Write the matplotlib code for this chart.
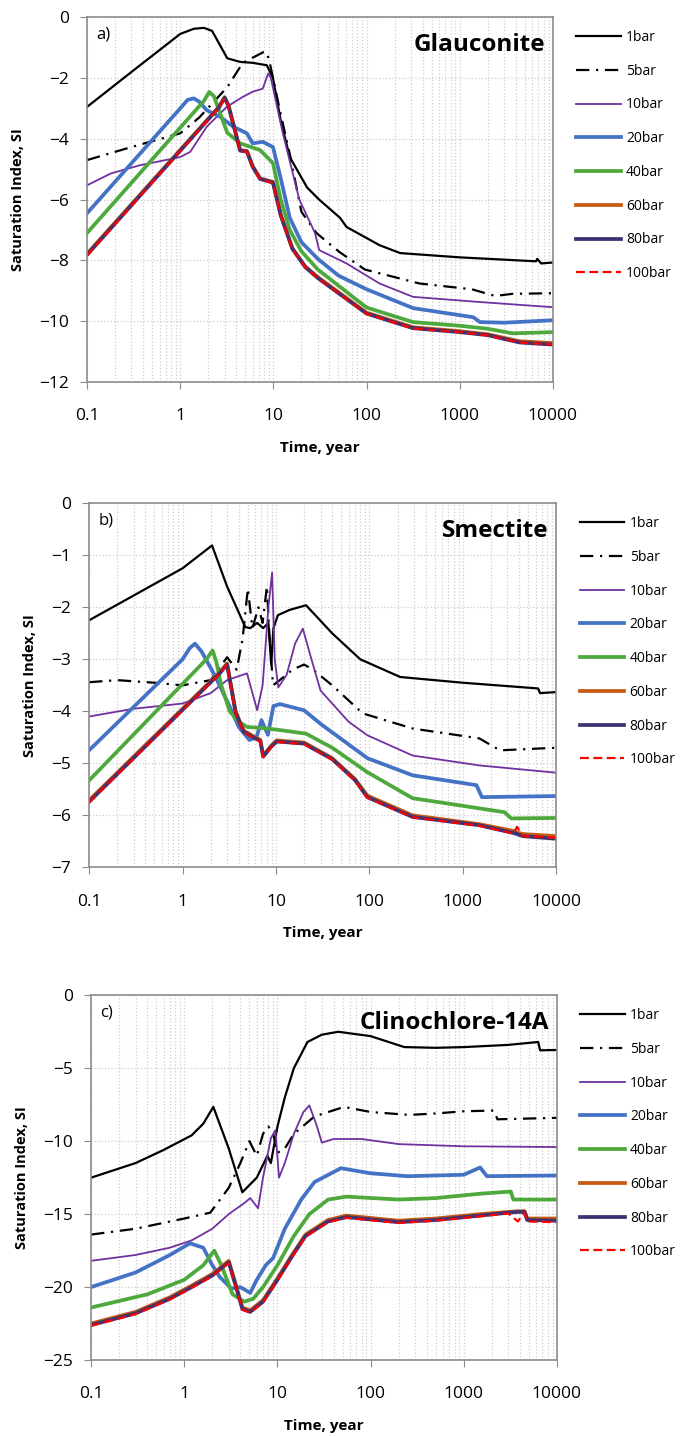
import matplotlib
matplotlib.use("Agg")
import matplotlib.pyplot as plt
from matplotlib.ticker import FixedLocator, NullFormatter, LogLocator

plt.rcParams['font.family'] = ['Open Sans', 'DejaVu Sans']

labels = ['1bar', '5bar', '10bar', '20bar', '40bar', '60bar', '80bar', '100bar']
colors = ['#000000', '#000000', '#7030A0', '#4472C4', '#4EA93C', '#C55A11', '#3F3172', '#FF0000']
styles = ['-', (0, (6, 3, 1, 3)), '-', '-', '-', '-', '-', (0, (4, 2))]
widths = [1.6, 1.6, 1.3, 2.7, 2.7, 2.7, 2.7, 1.6]

xticks = [0.1, 1, 10, 100, 1000, 10000]
xticklabels = ['0.1', '1', '10', '100', '1000', '10000']

# ---- a) Glauconite ----
a_t1 = [0.1, 0.3, 1, 1.4, 1.8, 2.2, 3.2, 4.4, 6, 8.5, 9.9, 12, 15, 23, 31, 52, 61, 138, 230, 1000, 6600, 6800, 7500, 10000]
a_si1 = [-2.95, -1.8, -0.55, -0.38, -0.35, -0.45, -1.35, -1.47, -1.5, -1.58, -2.0, -3.4, -4.6, -5.6, -6.0, -6.6, -6.9, -7.5, -7.76, -7.9, -8.03, -7.95, -8.1, -8.07]
a_t5 = [0.1, 0.3, 1, 1.6, 3.2, 4.7, 7.8, 8.5, 9.3, 12, 15, 20, 29, 51, 96, 370, 1350, 2400, 3700, 10000]
a_si5 = [-4.7, -4.27, -3.82, -3.3, -2.3, -1.5, -1.15, -1.15, -1.6, -3.2, -4.5, -6.4, -7.1, -7.72, -8.3, -8.76, -8.95, -9.17, -9.1, -9.08]
a_t10 = [0.1, 0.18, 0.37, 1.0, 1.28, 1.93, 3.16, 4.7, 6.0, 7.7, 8.8, 9.4, 12.6, 19, 28, 31, 61, 138, 316, 1650, 10000]
a_si10 = [-5.53, -5.14, -4.87, -4.6, -4.43, -3.6, -2.95, -2.62, -2.45, -2.35, -1.85, -2.0, -3.8, -6.0, -7.1, -7.66, -8.1, -8.76, -9.2, -9.37, -9.54]
a_t20 = [0.1, 1.0, 1.2, 1.4, 1.6, 1.93, 2.7, 3.7, 5.2, 6, 7.7, 9.9, 12, 15, 20, 30, 50, 100, 316, 1400, 1650, 3000, 10000]
a_si20 = [-6.45, -3.0, -2.72, -2.67, -2.78, -3.06, -3.28, -3.6, -3.82, -4.15, -4.1, -4.27, -5.3, -6.6, -7.4, -7.95, -8.5, -8.95, -9.57, -9.87, -10.03, -10.05, -9.97]
a_t40 = [0.1, 1.8, 2.05, 2.3, 3.2, 4.4, 7.2, 9.9, 12, 15, 20, 30, 100, 316, 1000, 2000, 3700, 10000]
a_si40 = [-7.1, -2.75, -2.46, -2.6, -3.8, -4.15, -4.37, -4.8, -6.0, -7.0, -7.7, -8.3, -9.55, -10.03, -10.15, -10.25, -10.4, -10.36]
a_t60 = [0.1, 2.6, 3.0, 3.3, 4.4, 5.2, 6, 7.2, 9.9, 12, 16, 22, 30, 100, 316, 1000, 2000, 4400, 10000]
a_si60 = [-7.78, -2.95, -2.63, -2.9, -4.37, -4.4, -4.9, -5.3, -5.42, -6.5, -7.6, -8.2, -8.55, -9.72, -10.2, -10.33, -10.43, -10.66, -10.72]
a_si80 = [-7.82, -2.97, -2.65, -2.92, -4.39, -4.42, -4.92, -5.32, -5.44, -6.52, -7.62, -8.22, -8.58, -9.75, -10.23, -10.36, -10.46, -10.7, -10.77]
a_si100 = [-7.84, -2.98, -2.66, -2.93, -4.4, -4.43, -4.93, -5.33, -5.45, -6.53, -7.63, -8.23, -8.58, -9.76, -10.24, -10.36, -10.47, -10.7, -10.77]

# ---- b) Smectite ----
b_t1 = [0.1, 1.0, 2.07, 3.0, 4.7, 5.3, 6.3, 7.3, 8.3, 8.9, 9.4, 10.5, 14, 21, 40, 80, 214, 1000, 6400, 6700, 10000]
b_si1 = [-2.25, -1.25, -0.81, -1.6, -2.38, -2.4, -2.3, -2.4, -2.3, -3.1, -2.4, -2.15, -2.05, -1.96, -2.5, -3.0, -3.34, -3.45, -3.56, -3.65, -3.63]
b_t5 = [0.1, 0.2, 0.5, 1.0, 2.0, 3.0, 3.8, 4.4, 5.0, 5.6, 6.5, 7.2, 8.0, 8.5, 9.3, 11, 15, 20, 25, 40, 85, 290, 1500, 2500, 10000]
b_si5 = [-3.44, -3.4, -3.45, -3.5, -3.4, -2.96, -3.2, -2.6, -1.64, -2.4, -2.0, -2.3, -1.6, -2.5, -3.5, -3.4, -3.2, -3.1, -3.2, -3.5, -4.04, -4.33, -4.52, -4.75, -4.7]
b_t10 = [0.1, 0.3, 1.0, 2.0, 3.0, 4.9, 6.3, 7.2, 8.3, 9.1, 9.7, 10.6, 13, 16, 19.4, 24, 30, 40, 60, 95, 290, 1500, 10000]
b_si10 = [-4.1, -3.95, -3.85, -3.65, -3.4, -3.27, -3.98, -3.5, -2.0, -1.33, -3.0, -3.54, -3.3, -2.7, -2.41, -3.0, -3.6, -3.85, -4.2, -4.46, -4.85, -5.04, -5.18]
b_t20 = [0.1, 1.0, 1.2, 1.36, 1.6, 2.2, 3.0, 4.0, 5.2, 6.2, 7.0, 8.2, 9.4, 11, 20, 30, 95, 290, 1400, 1600, 10000]
b_si20 = [-4.75, -3.0, -2.78, -2.7, -2.85, -3.3, -3.8, -4.3, -4.55, -4.5, -4.17, -4.45, -3.9, -3.86, -3.98, -4.24, -4.9, -5.23, -5.42, -5.65, -5.63]
b_t40 = [0.1, 1.8, 2.1, 2.3, 2.6, 3.2, 4.0, 4.9, 7.0, 10, 21, 40, 95, 290, 2800, 3300, 10000]
b_si40 = [-5.33, -3.0, -2.83, -3.05, -3.5, -4.0, -4.2, -4.3, -4.32, -4.35, -4.43, -4.7, -5.17, -5.67, -5.94, -6.06, -6.05]
b_t60 = [0.1, 2.5, 3.0, 3.7, 4.5, 6.0, 6.8, 7.3, 9.0, 10.2, 20, 40, 70, 95, 290, 1500, 3500, 3800, 4400, 10000]
b_si60 = [-5.71, -3.25, -3.08, -4.0, -4.37, -4.5, -4.55, -4.85, -4.65, -4.56, -4.6, -4.9, -5.3, -5.62, -6.0, -6.17, -6.3, -6.33, -6.36, -6.4]
b_si80 = [-5.74, -3.27, -3.1, -4.02, -4.39, -4.52, -4.57, -4.87, -4.67, -4.58, -4.62, -4.92, -5.32, -5.65, -6.03, -6.19, -6.34, -6.36, -6.4, -6.45]
b_si100 = [-5.75, -3.28, -3.1, -4.03, -4.4, -4.53, -4.58, -4.88, -4.68, -4.59, -4.63, -4.93, -5.33, -5.66, -6.04, -6.2, -6.35, -6.22, -6.4, -6.43]

# ---- c) Clinochlore-14A ----
c_t1 = [0.1, 0.3, 0.6, 1.2, 1.6, 2.05, 3.0, 4.2, 6.0, 7.8, 8.5, 10, 12, 15, 21, 30, 45, 100, 230, 500, 1000, 3000, 6300, 6600, 10000]
c_si1 = [-12.5, -11.5, -10.6, -9.6, -8.8, -7.65, -10.5, -13.5, -12.5, -11.0, -11.5, -9.0, -7.0, -5.0, -3.2, -2.7, -2.5, -2.8, -3.55, -3.6, -3.55, -3.4, -3.2, -3.77, -3.75]
c_t5 = [0.1, 0.3, 1.0, 1.9, 3.0, 4.0, 5.0, 6.0, 7.0, 8.0, 9.0, 10, 12, 15, 25, 52, 100, 260, 500, 1000, 2100, 2300, 10000]
c_si5 = [-16.4, -16.0, -15.3, -14.9, -13.2, -11.5, -10.0, -11.0, -9.5, -9.0, -9.5, -10.8, -10.5, -9.5, -8.3, -7.65, -8.0, -8.2, -8.1, -7.95, -7.9, -8.5, -8.4]
c_t10 = [0.1, 0.3, 0.7, 1.2, 2.0, 3.0, 4.5, 5.1, 6.2, 7.0, 8.5, 9.5, 10.4, 12, 15, 19, 22, 26, 30, 40, 80, 200, 1000, 10000]
c_si10 = [-18.2, -17.8, -17.3, -16.8, -16.0, -15.0, -14.2, -13.9, -14.6, -12.5, -9.8, -9.25, -12.5, -11.5, -9.5, -8.0, -7.55, -8.8, -10.1, -9.85, -9.85, -10.2, -10.35, -10.4]
c_t20 = [0.1, 0.3, 0.7, 1.15, 1.6, 2.0, 2.4, 3.2, 4.0, 5.1, 6.0, 7.5, 9.0, 12, 18, 25, 48, 100, 250, 1000, 1500, 1770, 10000]
c_si20 = [-20.0, -19.0, -17.8, -17.0, -17.3, -18.5, -19.3, -20.1, -20.0, -20.4, -19.5, -18.5, -18.0, -16.0, -14.0, -12.8, -11.85, -12.2, -12.4, -12.3, -11.8, -12.4, -12.35]
c_t40 = [0.1, 0.4, 1.0, 1.6, 2.1, 2.5, 3.3, 4.4, 5.5, 7.0, 10, 15, 22, 35, 55, 200, 500, 1500, 3200, 3400, 10000]
c_si40 = [-21.4, -20.5, -19.5, -18.5, -17.5, -18.5, -20.5, -21.0, -20.8, -20.0, -18.5, -16.5, -15.0, -14.0, -13.8, -14.0, -13.9, -13.6, -13.45, -14.0, -14.0]
c_t60 = [0.1, 0.3, 0.7, 1.2, 2.0, 3.0, 3.6, 4.2, 5.1, 7.0, 10, 14, 20, 35, 55, 200, 500, 1500, 3000, 3800, 4500, 4800, 10000]
c_si60 = [-22.5, -21.7, -20.7, -19.9, -19.1, -18.2, -19.9, -21.4, -21.6, -20.9, -19.4, -17.9, -16.4, -15.4, -15.1, -15.45, -15.3, -15.0, -14.85, -14.8, -14.8, -15.3, -15.3]
c_si80 = [-22.6, -21.8, -20.8, -20.0, -19.2, -18.3, -20.0, -21.5, -21.7, -21.0, -19.5, -18.0, -16.5, -15.5, -15.2, -15.55, -15.4, -15.1, -14.9, -14.85, -14.85, -15.4, -15.45]
c_si100 = [-22.65, -21.85, -20.85, -20.05, -19.25, -18.35, -20.05, -21.55, -21.75, -21.05, -19.55, -18.05, -16.55, -15.55, -15.25, -15.6, -15.45, -15.15, -14.95, -15.5, -14.9, -15.5, -15.55]

panels = [
    dict(tag='a)', name='Glauconite', ylim=(-12, 0), yticks=range(-12, 1, 2),
         series=[(a_t1, a_si1), (a_t5, a_si5), (a_t10, a_si10), (a_t20, a_si20),
                 (a_t40, a_si40), (a_t60, a_si60), (a_t60, a_si80), (a_t60, a_si100)],
         rect=[0.128, 0.734, 0.685, 0.254]),
    dict(tag='b)', name='Smectite', ylim=(-7, 0), yticks=range(-7, 1, 1),
         series=[(b_t1, b_si1), (b_t5, b_si5), (b_t10, b_si10), (b_t20, b_si20),
                 (b_t40, b_si40), (b_t60, b_si60), (b_t60, b_si80), (b_t60, b_si100)],
         rect=[0.131, 0.396, 0.687, 0.2535]),
    dict(tag='c)', name='Clinochlore-14A', ylim=(-25, 0), yticks=range(-25, 1, 5),
         series=[(c_t1, c_si1), (c_t5, c_si5), (c_t10, c_si10), (c_t20, c_si20),
                 (c_t40, c_si40), (c_t60, c_si60), (c_t60, c_si80), (c_t60, c_si100)],
         rect=[0.134, 0.0529, 0.685, 0.254]),
]

fig = plt.figure(figsize=(6.8, 14.36), dpi=100)

for p in panels:
    ax = fig.add_axes(p['rect'])
    for (t, si), lab, c, ls, lw in zip(p['series'], labels, colors, styles, widths):
        ax.plot(t, si, color=c, linestyle=ls, linewidth=lw, label=lab)
    ax.set_xscale('log')
    ax.set_xlim(0.1, 10000)
    ax.set_ylim(*p['ylim'])
    ax.set_yticks(list(p['yticks']))
    ax.xaxis.set_major_locator(FixedLocator(xticks))
    ax.set_xticklabels(xticklabels)
    ax.xaxis.set_minor_locator(LogLocator(base=10, subs=range(2, 10), numticks=20))
    ax.xaxis.set_minor_formatter(NullFormatter())
    ax.grid(True, which='major', axis='y', color='#CFCFCF', linestyle=':', linewidth=0.9)
    ax.grid(True, which='both', axis='x', color='#CFCFCF', linestyle=':', linewidth=0.9)
    ax.set_axisbelow(True)
    for s in ax.spines.values():
        s.set_color('#8C8C8C')
        s.set_linewidth(1.2)
    ax.tick_params(axis='x', which='major', length=5, color='#8C8C8C', pad=14, labelsize=12.5)
    ax.tick_params(axis='x', which='minor', length=0)
    ax.tick_params(axis='y', length=5, color='#8C8C8C', pad=8, labelsize=12.5)
    ax.set_xlabel('Time, year', fontsize=11, fontweight='bold', labelpad=12)
    ax.set_ylabel('Saturation Index, SI', fontsize=10.5, fontweight='bold', labelpad=10)
    ax.text(0.02, 0.975, p['tag'], transform=ax.transAxes, fontsize=12, va='top', ha='left')
    ax.text(0.983, 0.958, p['name'], transform=ax.transAxes, fontsize=17.5, fontweight='bold',
            va='top', ha='right')
    ax.legend(loc='upper left', bbox_to_anchor=(1.05, 0.965), frameon=False, fontsize=10,
              handlelength=3.2, handletextpad=0.4, labelspacing=1.35, borderaxespad=0, borderpad=0)

fig.savefig('out.png', dpi=100)
